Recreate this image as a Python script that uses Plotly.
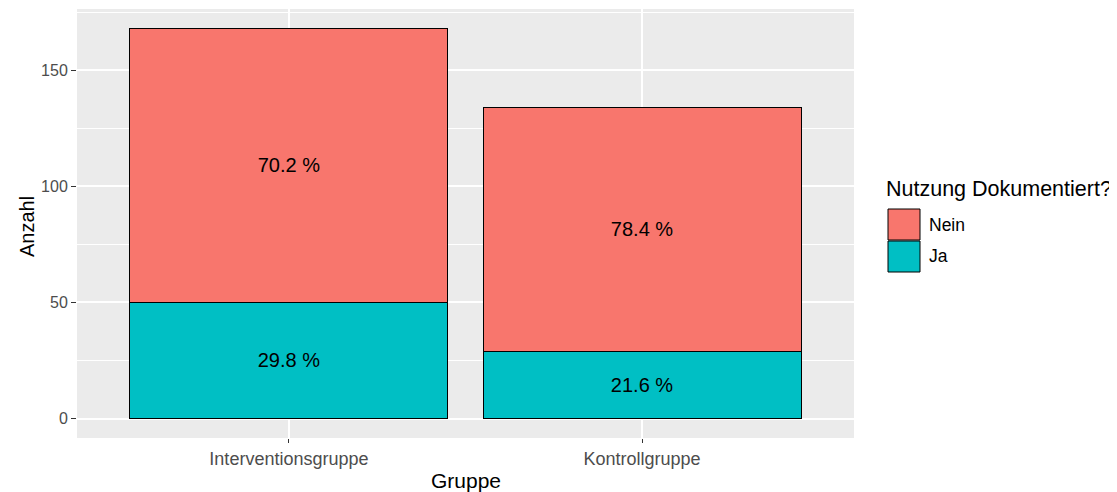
import plotly.graph_objects as go

# data
gruppen = ["Interventionsgruppe", "Kontrollgruppe"]
ja_anzahl = [50, 29]
nein_anzahl = [118, 105]
y_ticks = [0, 50, 100, 150]

FARBE_NEIN = "#F8766D"
FARBE_JA = "#00BFC4"
FONT = "Liberation Sans, Arial, sans-serif"

# the page body has an 8px margin, so the figure sits at (8, 8) in the window
OFF = 8
W, H = 1117 - OFF, 492 - OFF
M = dict(l=77 - OFF, r=263, t=9 - OFF, b=54)

totals = [j + n for j, n in zip(ja_anzahl, nein_anzahl)]
ja_text = [f"{j / t * 100:.1f} %" for j, t in zip(ja_anzahl, totals)]
nein_text = [f"{n / t * 100:.1f} %" for n, t in zip(nein_anzahl, totals)]


def px_x(px):
    return (px - OFF - M["l"]) / (W - M["l"] - M["r"])


def px_y(py):
    return (H - M["b"] - (py - OFF)) / (H - M["t"] - M["b"])


fig = go.Figure()

for werte, texte, name, farbe in [
    (ja_anzahl, ja_text, "Ja", FARBE_JA),
    (nein_anzahl, nein_text, "Nein", FARBE_NEIN),
]:
    fig.add_trace(
        go.Bar(
            x=gruppen,
            y=werte,
            name=name,
            width=0.9,
            marker=dict(color=farbe, line=dict(color="black", width=1)),
            text=texte,
            textposition="inside",
            insidetextanchor="middle",
            textangle=0,
            textfont=dict(size=20, color="black", family=FONT),
            showlegend=False,
        )
    )

ymax = max(totals)
pad = ymax * 0.05

fig.update_layout(
    barmode="stack",
    width=W,
    height=H,
    margin=M,
    paper_bgcolor="white",
    plot_bgcolor="#EBEBEB",
    font=dict(family=FONT, color="black"),
)

fig.update_xaxes(
    range=[-0.6, 1.6],
    automargin=False,
    showgrid=True,
    gridcolor="white",
    gridwidth=2,
    ticks="outside",
    ticklen=4,
    tickcolor="#333333",
    tickwidth=1,
    tickfont=dict(size=18, color="#4D4D4D"),
    zeroline=False,
)

fig.update_yaxes(
    range=[-pad, ymax + pad],
    automargin=False,
    tickvals=y_ticks,
    showgrid=True,
    gridcolor="white",
    gridwidth=2,
    minor=dict(dtick=25, tick0=0, showgrid=True, gridcolor="white", gridwidth=1),
    ticks="outside",
    ticklen=5,
    tickcolor="#333333",
    tickwidth=1,
    tickfont=dict(size=16, color="#4D4D4D"),
    zeroline=False,
)

# axis titles
fig.add_annotation(
    xref="paper", yref="paper", x=px_x(466), y=px_y(480),
    xanchor="center", yanchor="middle", showarrow=False,
    text="Gruppe", font=dict(size=21, color="black"),
)
fig.add_annotation(
    xref="paper", yref="paper", x=px_x(27), y=px_y(227),
    xanchor="center", yanchor="middle", showarrow=False, textangle=-90,
    text="Anzahl", font=dict(size=20, color="black"),
)

# legend drawn by hand to get ggplot-sized keys
fig.add_annotation(
    xref="paper", yref="paper", x=px_x(884), y=px_y(189),
    xanchor="left", yanchor="middle", showarrow=False,
    text="Nutzung Dokumentiert?", font=dict(size=21.5, color="black"),
)
legend_items = [("Nein", FARBE_NEIN, 209, 240), ("Ja", FARBE_JA, 241, 272)]
for label, farbe, top, bottom in legend_items:
    fig.add_shape(
        type="rect", xref="paper", yref="paper",
        x0=px_x(888), x1=px_x(920), y0=px_y(bottom), y1=px_y(top),
        fillcolor=farbe, line=dict(color="black", width=1),
    )
    fig.add_annotation(
        xref="paper", yref="paper", x=px_x(927), y=px_y((top + bottom) / 2),
        xanchor="left", yanchor="middle", showarrow=False,
        text=label, font=dict(size=17.5, color="black"),
    )

fig.write_html("out.html")
